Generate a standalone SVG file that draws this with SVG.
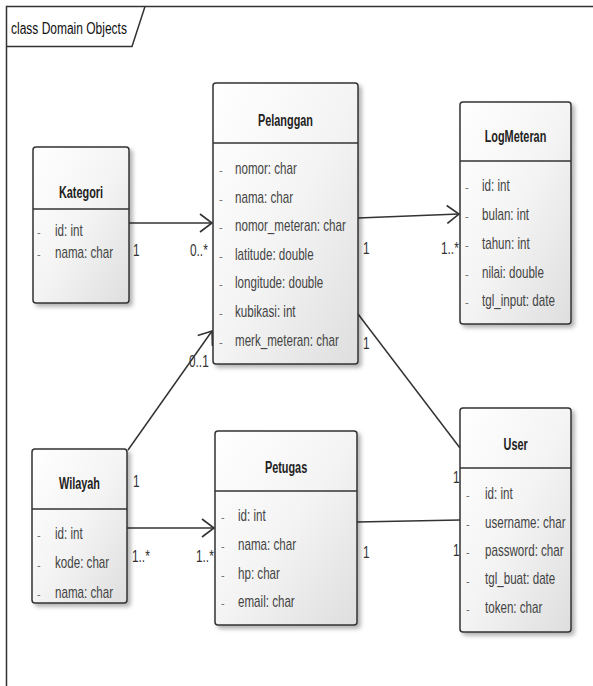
<svg xmlns="http://www.w3.org/2000/svg" width="593" height="686" viewBox="0 0 593 686">
<defs>
<linearGradient id="g" x1="0" y1="0" x2="1" y2="1">
<stop offset="0" stop-color="#ffffff"/>
<stop offset="0.5" stop-color="#f4f4f4"/>
<stop offset="1" stop-color="#dedede"/>
</linearGradient>
<filter id="sh" x="-10%" y="-10%" width="130%" height="130%">
<feDropShadow dx="3" dy="3" stdDeviation="2" flood-color="#000" flood-opacity="0.3"/>
</filter>
<marker id="arr" viewBox="0 0 14 20" refX="13" refY="10" markerWidth="14" markerHeight="20" markerUnits="userSpaceOnUse" orient="auto">
<path d="M1,1 L13,10 L1,19" fill="none" stroke="#333" stroke-width="1.6"/>
</marker>
</defs>
<style>
.box{fill:url(#g);stroke:#333;stroke-width:1.5;filter:url(#sh)}
.div{stroke:#333;stroke-width:1.5}
.t{font-family:"Liberation Sans",Arial,sans-serif;font-size:16px;font-weight:bold;fill:#222;text-anchor:middle;transform-box:fill-box;transform-origin:center;transform:scaleX(0.68)}
.a{font-family:"Liberation Sans",Arial,sans-serif;font-size:16px;fill:#444;transform-box:fill-box;transform-origin:left center;transform:scaleX(0.725)}
.b{font-family:"Liberation Sans",Arial,sans-serif;font-size:11px;fill:#666}
.l{font-family:"Liberation Sans",Arial,sans-serif;font-size:16px;fill:#333;transform-box:fill-box;transform-origin:left center;transform:scaleX(0.74)}
.h{font-family:"Liberation Sans",Arial,sans-serif;font-size:16px;fill:#111;transform-box:fill-box;transform-origin:left center;transform:scaleX(0.75)}
.c{fill:none;stroke:#333;stroke-width:1.5}
.f{fill:none;stroke:#333;stroke-width:1.5}
</style>
<rect x="0" y="0" width="593" height="686" fill="#ffffff"/>
<g id="frame">
<path class="f" d="M6.5,686 L6.5,6.5 L593,6.5"/>
<path class="f" d="M6.5,46.5 L132,46.5 L145,6.5"/>
<text x="11" y="34" class="h">class Domain Objects</text>
</g>
<g id="connectors">
<path class="c" d="M129,223 L212,223" marker-end="url(#arr)"/>
<path class="c" d="M358,218 L459,214" marker-end="url(#arr)"/>
<path class="c" d="M128,450 L212,331" marker-end="url(#arr)"/>
<path class="c" d="M127,528 L214,528" marker-end="url(#arr)"/>
<path class="c" d="M358,314 L460,448"/>
<path class="c" d="M357,522 L460,520"/>
<text x="133" y="256" class="l">1</text>
<text x="190" y="256" class="l">0..*</text>
<text x="363" y="254" class="l">1</text>
<text x="441" y="254" class="l">1..*</text>
<text x="189" y="367" class="l">0..1</text>
<text x="133" y="487" class="l">1</text>
<text x="132" y="562" class="l">1..*</text>
<text x="196" y="562" class="l">1..*</text>
<text x="363" y="349" class="l">1</text>
<text x="453" y="483" class="l">1</text>
<text x="363" y="558" class="l">1</text>
<text x="453" y="556" class="l">1</text>
</g>
<g id="Kategori">
<rect class="box" x="33" y="147" width="96" height="156" rx="3"/>
<line class="div" x1="33" y1="209" x2="129" y2="209"/>
<text x="81" y="198" class="t">Kategori</text>
<text x="37" y="236" class="b">-</text><text x="55" y="236" class="a">id: int</text>
<text x="37" y="258" class="b">-</text><text x="55" y="258" class="a">nama: char</text>
</g>
<g id="Pelanggan">
<rect class="box" x="213" y="83" width="145" height="281" rx="3"/>
<line class="div" x1="213" y1="143" x2="358" y2="143"/>
<text x="285.5" y="126" class="t">Pelanggan</text>
<text x="219" y="174" class="b">-</text><text x="235" y="174" class="a">nomor: char</text>
<text x="219" y="202.6" class="b">-</text><text x="235" y="202.6" class="a">nama: char</text>
<text x="219" y="231.2" class="b">-</text><text x="235" y="231.2" class="a">nomor_meteran: char</text>
<text x="219" y="259.8" class="b">-</text><text x="235" y="259.8" class="a">latitude: double</text>
<text x="219" y="288.4" class="b">-</text><text x="235" y="288.4" class="a">longitude: double</text>
<text x="219" y="317" class="b">-</text><text x="235" y="317" class="a">kubikasi: int</text>
<text x="219" y="345.6" class="b">-</text><text x="235" y="345.6" class="a">merk_meteran: char</text>
</g>
<g id="LogMeteran">
<rect class="box" x="460" y="102" width="111" height="222" rx="3"/>
<line class="div" x1="460" y1="161" x2="571" y2="161"/>
<text x="515.5" y="142" class="t">LogMeteran</text>
<text x="465" y="191" class="b">-</text><text x="482" y="191" class="a">id: int</text>
<text x="465" y="220" class="b">-</text><text x="482" y="220" class="a">bulan: int</text>
<text x="465" y="249" class="b">-</text><text x="482" y="249" class="a">tahun: int</text>
<text x="465" y="278" class="b">-</text><text x="482" y="278" class="a">nilai: double</text>
<text x="465" y="306" class="b">-</text><text x="482" y="306" class="a">tgl_input: date</text>
</g>
<g id="Wilayah">
<rect class="box" x="32" y="449" width="95" height="154" rx="3"/>
<line class="div" x1="32" y1="509" x2="127" y2="509"/>
<text x="79.5" y="489" class="t">Wilayah</text>
<text x="37" y="539" class="b">-</text><text x="55" y="539" class="a">id: int</text>
<text x="37" y="568.5" class="b">-</text><text x="55" y="568.5" class="a">kode: char</text>
<text x="37" y="598" class="b">-</text><text x="55" y="598" class="a">nama: char</text>
</g>
<g id="Petugas">
<rect class="box" x="215" y="431" width="142" height="194" rx="3"/>
<line class="div" x1="215" y1="491" x2="357" y2="491"/>
<text x="286" y="473" class="t">Petugas</text>
<text x="221" y="521" class="b">-</text><text x="238" y="521" class="a">id: int</text>
<text x="221" y="550" class="b">-</text><text x="238" y="550" class="a">nama: char</text>
<text x="221" y="579" class="b">-</text><text x="238" y="579" class="a">hp: char</text>
<text x="221" y="607" class="b">-</text><text x="238" y="607" class="a">email: char</text>
</g>
<g id="User">
<rect class="box" x="460" y="408" width="111" height="224" rx="3"/>
<line class="div" x1="460" y1="468" x2="571" y2="468"/>
<text x="515.5" y="450" class="t">User</text>
<text x="466" y="499" class="b">-</text><text x="485" y="499" class="a">id: int</text>
<text x="466" y="528" class="b">-</text><text x="485" y="528" class="a">username: char</text>
<text x="466" y="556" class="b">-</text><text x="485" y="556" class="a">password: char</text>
<text x="466" y="584.5" class="b">-</text><text x="485" y="584.5" class="a">tgl_buat: date</text>
<text x="466" y="613" class="b">-</text><text x="485" y="613" class="a">token: char</text>
</g>
</svg>
